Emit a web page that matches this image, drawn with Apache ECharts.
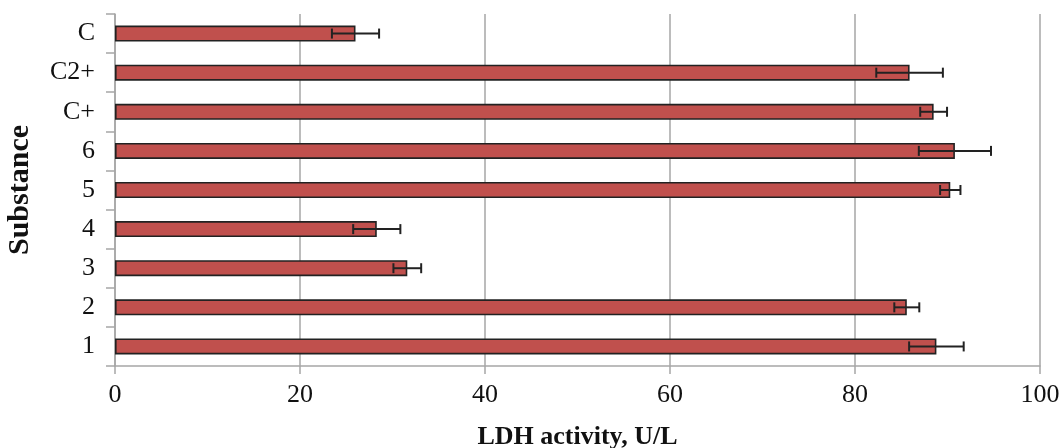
<!DOCTYPE html>
<html><head><meta charset="utf-8">
<script src="https://cdn.jsdelivr.net/npm/echarts@6/dist/echarts.min.js"></script>
<style>html,body{margin:0;padding:0;background:#fff}#c{width:1063px;height:448px}</style>
</head><body><div id="c"></div>
<script>
const categories = ['1', '2', '3', '4', '5', '6', 'C+', 'C2+', 'C'];
const values = [88.8, 85.6, 31.6, 28.3, 90.3, 90.8, 88.5, 85.9, 26.0];
const errors = [2.95, 1.35, 1.5, 2.55, 1.1, 3.9, 1.45, 3.6, 2.55];
const xTicks = { min: 0, max: 100, interval: 20 };

const chart = echarts.init(document.getElementById('c'));
const font = 'Liberation Serif';
chart.setOption({
  animation: false,
  grid: { left: 115, right: 23, top: 14, bottom: 82, containLabel: false, outerBoundsMode: 'none' },
  xAxis: {
    type: 'value', min: xTicks.min, max: xTicks.max, interval: xTicks.interval,
    name: 'LDH activity, U/L', nameLocation: 'middle', nameGap: 58,
    nameTextStyle: { fontFamily: font, fontSize: 26, fontWeight: 'bold', color: '#111' },
    axisLine: { show: true, lineStyle: { color: '#a6a6a6', width: 1.5 } },
    axisTick: { show: true, length: 8, lineStyle: { color: '#a6a6a6', width: 1.5 } },
    axisLabel: { fontFamily: font, fontSize: 26, color: '#111', margin: 16 },
    splitLine: { show: true, lineStyle: { color: '#a6a6a6', width: 1.5 } }
  },
  yAxis: {
    type: 'category', data: categories,
    name: 'Substance', nameLocation: 'middle', nameGap: 80, nameRotate: 90,
    nameTextStyle: { fontFamily: font, fontSize: 30, fontWeight: 'bold', color: '#111' },
    axisLine: { show: true, lineStyle: { color: '#a6a6a6', width: 1.5 } },
    axisTick: { show: true, length: 9, lineStyle: { color: '#a6a6a6', width: 1.5 } },
    axisLabel: { fontFamily: font, fontSize: 26, color: '#111', margin: 20 },
    splitLine: { show: false }
  },
  series: [
    {
      type: 'bar', data: values, barWidth: 16,
      itemStyle: { color: '#c0504d', borderColor: '#222', borderWidth: 1.6 },
      z: 2
    },
    {
      type: 'custom',
      data: values.map((v, i) => [v - errors[i], v + errors[i], i]),
      renderItem: function (params, api) {
        const lo = api.coord([api.value(0), api.value(2)]);
        const hi = api.coord([api.value(1), api.value(2)]);
        const h = 5;
        const style = { stroke: '#222', lineWidth: 2 };
        return {
          type: 'group',
          children: [
            { type: 'line', shape: { x1: lo[0], y1: lo[1], x2: hi[0], y2: hi[1] }, style: style },
            { type: 'line', shape: { x1: lo[0], y1: lo[1] - h, x2: lo[0], y2: lo[1] + h }, style: style },
            { type: 'line', shape: { x1: hi[0], y1: hi[1] - h, x2: hi[0], y2: hi[1] + h }, style: style }
          ]
        };
      },
      z: 3
    }
  ]
});
</script></body></html>
